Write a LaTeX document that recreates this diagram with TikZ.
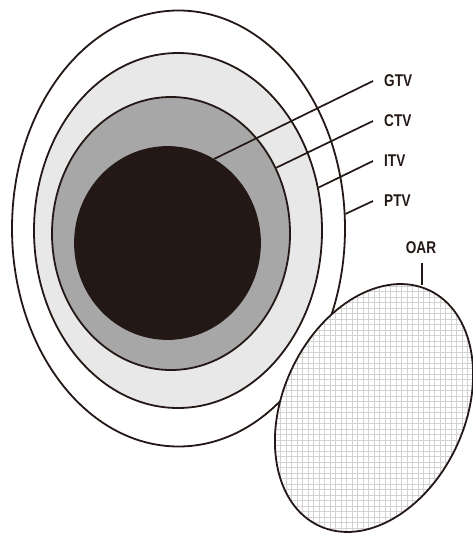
\documentclass[tikz,border=0pt]{standalone}
\usepackage{fontspec}
\setmainfont{Liberation Sans}[FakeStretch=0.8]
\usetikzlibrary{shapes.geometric}
\definecolor{inkdark}{HTML}{231815}
\definecolor{ctvgray}{HTML}{A7A7A7}
\definecolor{itvgray}{HTML}{E8E8E8}

\tikzset{
  volume/.style={ellipse, draw=inkdark, line width=1.8pt, inner sep=0pt},
  leader/.style={draw=inkdark, line width=1.7pt},
  tag/.style={inner xsep=11pt, inner ysep=0pt, anchor=west, text=inkdark,
    font=\fontsize{17}{19}\selectfont\bfseries},
  meshline/.style={draw=gray!35, line width=0.45pt}
}

\begin{document}
\begin{tikzpicture}[x=1pt, y=-1pt]
\useasboundingbox (0,0) rectangle (472,535);

% nested target volumes
\node[volume, fill=white, minimum width=333pt, minimum height=436pt] (ptv) at (178.5,228.5) {};
\node[volume, fill=itvgray, minimum width=288pt, minimum height=355pt] (itv) at (178,230.5) {};
\node[volume, fill=ctvgray, minimum width=238pt, minimum height=273pt] (ctv) at (171,233.5) {};
\node[volume, fill=inkdark, minimum width=185pt, minimum height=192pt] (gtv) at (167.5,243) {};

% organ at risk
\coordinate (oar) at (374,408);
\fill[white, rotate around={65:(oar)}] (oar) ellipse [x radius=130pt, y radius=91pt];
\begin{scope}
\clip[rotate around={65:(oar)}] (oar) ellipse [x radius=130pt, y radius=91pt];
\draw[meshline, step=5.5pt] (240,270) grid (480,540);
\end{scope}
\draw[draw=inkdark, line width=1.8pt, rotate around={65:(oar)}] (oar) ellipse [x radius=130pt, y radius=91pt];
\coordinate (oartop) at (422,285);

% labels
\node[tag] (lgtv) at (373,81) {GTV};
\node[tag] (lctv) at (373,121) {CTV};
\node[tag] (litv) at (373,161) {ITV};
\node[tag] (lptv) at (373,201) {PTV};
\node[tag, anchor=center, inner xsep=0pt, inner ysep=9pt] (loar) at (421,248) {OAR};

\draw[leader] (gtv.61) -- (lgtv.west);
\draw[leader] (ctv.32) -- (lctv.west);
\draw[leader] (itv.17.5) -- (litv.west);
\draw[leader] (ptv.5) -- (lptv.west);
\draw[leader] (loar.south -| oartop) -- (oartop);
\end{tikzpicture}
\end{document}
